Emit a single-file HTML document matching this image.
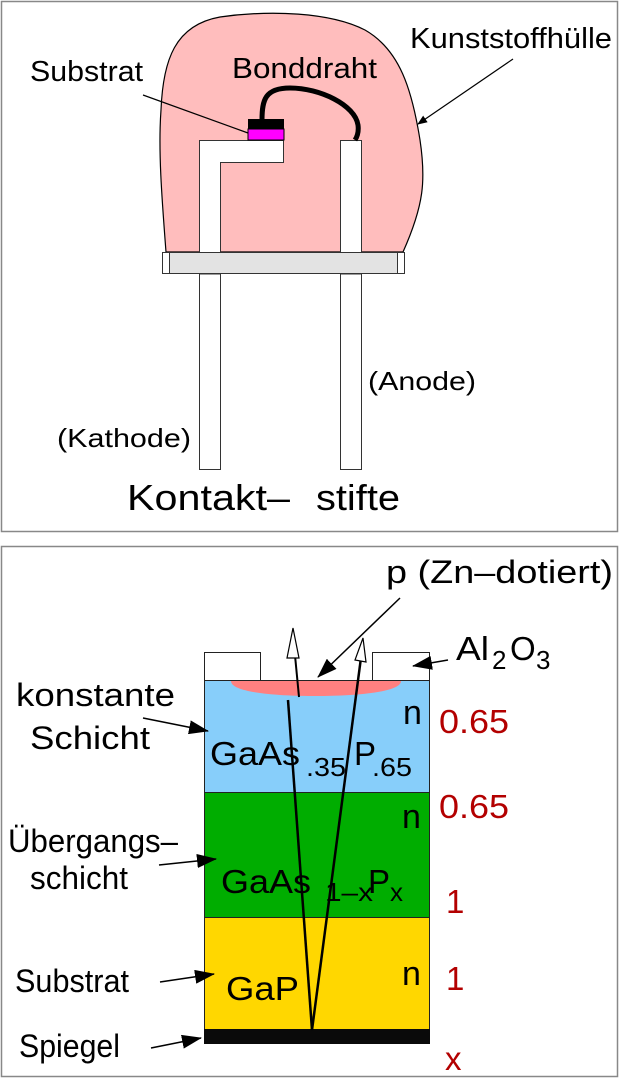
<!DOCTYPE html>
<html><head><meta charset="utf-8"><style>
html,body{margin:0;padding:0;background:#fff;}
svg{display:block;font-family:"Liberation Sans",sans-serif;}
</style></head><body>
<svg width="620" height="1080" viewBox="0 0 620 1080" xmlns="http://www.w3.org/2000/svg">
<defs>
<marker id="fa" markerWidth="10" markerHeight="8" refX="9" refY="4" orient="auto" markerUnits="userSpaceOnUse" viewBox="0 0 10 8"><path d="M0,0 L10,4 L0,8 Z" fill="#000"/></marker>
<marker id="fb" markerWidth="20" markerHeight="14" refX="19" refY="7" orient="auto" markerUnits="userSpaceOnUse" viewBox="0 0 20 14"><path d="M0,0 L20,7 L0,14 Z" fill="#000"/></marker>
</defs>
<!-- top panel -->
<rect x="1.5" y="1.5" width="616" height="530" fill="#fff" stroke="#888" stroke-width="1.5"/>
<path d="M166,252 C162,200 158,150 161,110 C163,60 175,25 220,17 C270,10 330,12 365,30 C400,50 412,90 420,140 C426,180 424,205 403,252 Z" fill="#ffbdbd" stroke="#000" stroke-width="1.2"/>
<rect x="162.5" y="252.5" width="242" height="21" fill="#e3e3e3" stroke="#333" stroke-width="1"/>
<rect x="162.5" y="252.5" width="7" height="21" fill="#fff" stroke="#333" stroke-width="1"/>
<rect x="397.5" y="252.5" width="7" height="21" fill="#fff" stroke="#333" stroke-width="1"/>
<path d="M199.5,252 V140.5 H283.5 V162.5 H220.5 V252" fill="#fff" stroke="#333" stroke-width="1"/>
<rect x="199.5" y="274" width="21" height="195.5" fill="#fff" stroke="#333" stroke-width="1"/>
<path d="M340.5,252 V140.5 H361.5 V252" fill="#fff" stroke="#333" stroke-width="1"/>
<rect x="340.5" y="274" width="21" height="195.5" fill="#fff" stroke="#333" stroke-width="1"/>
<rect x="248" y="119" width="36" height="10" fill="#000"/>
<rect x="248" y="129" width="36" height="11" fill="#ff00ff" stroke="#000" stroke-width="1"/>
<path d="M262,120 C262,100 265,88 290,88 C320,88 355,105 358,125 C359,133 357,137 355,140" fill="none" stroke="#000" stroke-width="5"/>
<text x="30" y="81" font-size="29" textLength="113" lengthAdjust="spacingAndGlyphs">Substrat</text>
<line x1="143" y1="95" x2="248" y2="133" stroke="#000" stroke-width="1.2"/>
<text x="232" y="78" font-size="29" textLength="145" lengthAdjust="spacingAndGlyphs">Bonddraht</text>
<text x="410" y="48" font-size="29" textLength="202" lengthAdjust="spacingAndGlyphs">Kunststoffhülle</text>
<line x1="513" y1="59" x2="418" y2="124" stroke="#000" stroke-width="1.2" marker-end="url(#fa)"/>
<text x="368" y="390" font-size="26" textLength="108" lengthAdjust="spacingAndGlyphs">(Anode)</text>
<text x="57" y="447" font-size="26" textLength="134" lengthAdjust="spacingAndGlyphs">(Kathode)</text>
<text x="127" y="510" font-size="36" textLength="163" lengthAdjust="spacingAndGlyphs">Kontakt–</text>
<text x="316" y="510" font-size="36" textLength="84" lengthAdjust="spacingAndGlyphs">stifte</text>
<!-- bottom panel -->
<rect x="1.5" y="546.5" width="616" height="530" fill="#fff" stroke="#888" stroke-width="1.5"/>
<rect x="204.5" y="680.5" width="225" height="112" fill="#87cefa" stroke="#222" stroke-width="1"/>
<rect x="204.5" y="792.5" width="225" height="125" fill="#00ad00" stroke="#222" stroke-width="1"/>
<rect x="204.5" y="917.5" width="225" height="112" fill="#ffd700" stroke="#222" stroke-width="1"/>
<rect x="204" y="1029" width="226" height="15" fill="#0a0a0a"/>
<rect x="204.5" y="652.5" width="56" height="28" fill="#fff" stroke="#222" stroke-width="1"/>
<rect x="372.5" y="652.5" width="57" height="28" fill="#fff" stroke="#222" stroke-width="1"/>
<path d="M231,681 H401 C401,693 350,696 316,696 C280,696 231,693 231,681 Z" fill="#ff8080"/>
<text x="210" y="765" font-size="33" textLength="90" lengthAdjust="spacingAndGlyphs">GaAs</text><text x="306" y="776" font-size="26" textLength="40" lengthAdjust="spacingAndGlyphs">.35</text>
<text x="354" y="765" font-size="33">P</text><text x="372" y="776" font-size="26" textLength="40" lengthAdjust="spacingAndGlyphs">.65</text>
<text x="221" y="893" font-size="33" textLength="90" lengthAdjust="spacingAndGlyphs">GaAs</text><text x="325" y="901" font-size="26" textLength="48" lengthAdjust="spacingAndGlyphs">1–x</text>
<text x="368" y="893" font-size="33">P</text><text x="390" y="901" font-size="26">x</text>
<text x="226" y="1000" font-size="33" textLength="73" lengthAdjust="spacingAndGlyphs">GaP</text>
<line x1="299" y1="697" x2="294" y2="645" stroke="#000" stroke-width="2"/>
<path d="M293,628 L299,658 L287,658 Z" fill="#fff" stroke="#000" stroke-width="1.2"/>
<line x1="288" y1="700" x2="312" y2="1030" stroke="#000" stroke-width="2.5"/>
<line x1="312" y1="1030" x2="362" y2="650" stroke="#000" stroke-width="2.5"/>
<path d="M363,638 L366,662 L355,660 Z" fill="#fff" stroke="#000" stroke-width="1.2"/>
<text x="403" y="724" font-size="34">n</text>
<text x="402" y="828" font-size="34">n</text>
<text x="402" y="985" font-size="34">n</text>
<g fill="#b30000" font-size="33">
<text x="439" y="733" textLength="70" lengthAdjust="spacingAndGlyphs">0.65</text>
<text x="439" y="818" textLength="70" lengthAdjust="spacingAndGlyphs">0.65</text>
<text x="446" y="913">1</text>
<text x="446" y="990">1</text>
<text x="445" y="1070">x</text>
</g>
<text x="386" y="583" font-size="32" textLength="227" lengthAdjust="spacingAndGlyphs">p (Zn–dotiert)</text>
<line x1="400" y1="598" x2="318" y2="677" stroke="#000" stroke-width="1.5" marker-end="url(#fb)"/>
<text x="456" y="660" font-size="33" textLength="33" lengthAdjust="spacingAndGlyphs">Al</text><text x="492" y="669" font-size="26">2</text>
<text x="510" y="660" font-size="33">O</text><text x="536" y="669" font-size="26">3</text>
<line x1="448" y1="660" x2="413" y2="666" stroke="#000" stroke-width="1.5" marker-end="url(#fb)"/>
<text x="16" y="706" font-size="32" textLength="159" lengthAdjust="spacingAndGlyphs">konstante</text>
<text x="30" y="749" font-size="32" textLength="120" lengthAdjust="spacingAndGlyphs">Schicht</text>
<line x1="143" y1="718" x2="208" y2="731" stroke="#000" stroke-width="1.5" marker-end="url(#fb)"/>
<text x="8" y="852" font-size="32" textLength="170" lengthAdjust="spacingAndGlyphs">Übergangs–</text>
<text x="30" y="889" font-size="32" textLength="98" lengthAdjust="spacingAndGlyphs">schicht</text>
<line x1="159" y1="865" x2="216" y2="859" stroke="#000" stroke-width="1.5" marker-end="url(#fb)"/>
<text x="15" y="992" font-size="32" textLength="114" lengthAdjust="spacingAndGlyphs">Substrat</text>
<line x1="160" y1="982" x2="214" y2="974" stroke="#000" stroke-width="1.5" marker-end="url(#fb)"/>
<text x="19" y="1057" font-size="32" textLength="101" lengthAdjust="spacingAndGlyphs">Spiegel</text>
<line x1="151" y1="1048" x2="201" y2="1038" stroke="#000" stroke-width="1.5" marker-end="url(#fb)"/>
</svg>
</body></html>
